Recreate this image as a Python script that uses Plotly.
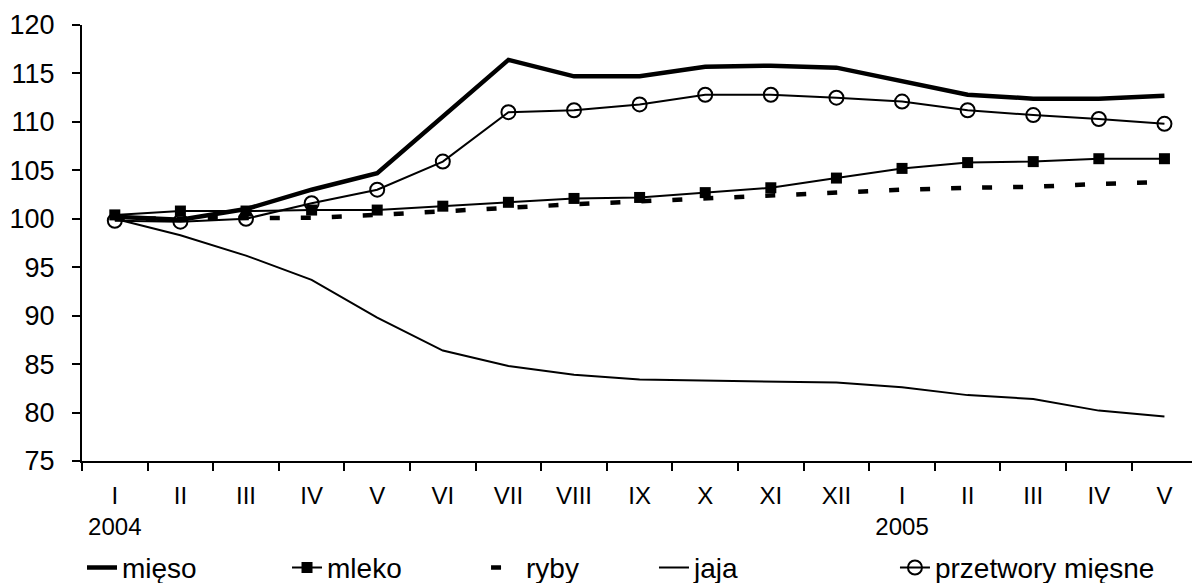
import plotly.graph_objects as go

months = ["I", "II", "III", "IV", "V", "VI", "VII", "VIII", "IX", "X", "XI", "XII",
          "I", "II", "III", "IV", "V"]
years = ["2004", "", "", "", "", "", "", "", "", "", "", "", "2005", "", "", "", ""]

mieso = [100.2, 99.9, 101.0, 103.0, 104.7, 110.5, 116.4, 114.7, 114.7, 115.7, 115.8,
         115.6, 114.2, 112.8, 112.4, 112.4, 112.7]
mleko = [100.4, 100.8, 100.8, 100.9, 100.9, 101.3, 101.7, 102.1, 102.2, 102.7, 103.2,
         104.2, 105.2, 105.8, 105.9, 106.2, 106.2]
ryby = [100.0, 100.0, 100.0, 100.1, 100.4, 100.8, 101.2, 101.5, 101.8, 102.1, 102.4,
        102.8, 103.0, 103.2, 103.3, 103.6, 103.8]
jaja = [100.0, 98.3, 96.2, 93.7, 89.8, 86.4, 84.8, 83.9, 83.4, 83.3, 83.2, 83.1,
        82.6, 81.8, 81.4, 80.2, 79.6]
przetwory = [99.8, 99.7, 100.0, 101.6, 103.0, 105.9, 111.0, 111.2, 111.8, 112.8, 112.8,
             112.5, 112.1, 111.2, 110.7, 110.3, 109.8]

y_ticks = [75, 80, 85, 90, 95, 100, 105, 110, 115, 120]

FONT = "Liberation Sans, Arial, sans-serif"
x = list(range(len(months)))
ticktext = [m if not yr else f"{m}<br>{yr}" for m, yr in zip(months, years)]

fig = go.Figure()
fig.add_trace(go.Scatter(x=x, y=mieso, name="mięso", mode="lines", legend="legend",
                         line=dict(color="black", width=4.5)))
fig.add_trace(go.Scatter(x=x, y=mleko, name="mleko", mode="lines+markers", legend="legend2",
                         line=dict(color="black", width=2),
                         marker=dict(symbol="square", size=11, color="black")))
fig.add_trace(go.Scatter(x=x, y=ryby, name="ryby", mode="lines", legend="legend3",
                         line=dict(color="black", width=4.5, dash="10px,21px")))
fig.add_trace(go.Scatter(x=x, y=jaja, name="jaja", mode="lines", legend="legend4",
                         line=dict(color="black", width=2)))
fig.add_trace(go.Scatter(x=x, y=przetwory, name="przetwory mięsne", mode="lines+markers",
                         legend="legend5",
                         line=dict(color="black", width=2),
                         marker=dict(symbol="circle-open", size=14, color="black",
                                     line=dict(width=2, color="black"))))

legend_style = dict(orientation="h", xanchor="left", y=-0.245, yanchor="middle",
                    font=dict(size=28, family=FONT, color="black"),
                    bgcolor="rgba(0,0,0,0)")
legend_x = [0.0, 0.1847, 0.364, 0.5153, 0.7324]

fig.update_layout(
    width=1192, height=583,
    margin=dict(l=82, r=0, t=25, b=122, autoexpand=False),
    paper_bgcolor="white", plot_bgcolor="white",
    font=dict(family=FONT, color="black", size=24),
    showlegend=True,
    legend=dict(x=legend_x[0], **legend_style),
    legend2=dict(x=legend_x[1], **legend_style),
    legend3=dict(x=legend_x[2], **legend_style),
    legend4=dict(x=legend_x[3], **legend_style),
    legend5=dict(x=legend_x[4], **legend_style),
    xaxis=dict(
        range=[-0.5, 16.42], tickmode="array", tickvals=x, ticktext=ticktext,
        ticks="", showgrid=False, zeroline=False, automargin=False,
        showline=True, linecolor="black", linewidth=2,
        tickfont=dict(size=24, family=FONT, color="black"),
        ticklabelstandoff=12,
        minor=dict(tickmode="array", tickvals=[i - 0.5 for i in range(len(months) + 1)],
                   ticks="outside", ticklen=8, tickwidth=2, tickcolor="black",
                   showgrid=False),
    ),
    yaxis=dict(
        range=[75, 120], tickmode="array", tickvals=y_ticks,
        ticks="outside", ticklen=8, tickwidth=2, tickcolor="black",
        showgrid=False, zeroline=False, automargin=False,
        showline=True, linecolor="black", linewidth=2,
        tickfont=dict(size=27, family=FONT, color="black"),
        ticklabelstandoff=12,
    ),
)

fig.write_html(
    "out.html",
    config={"displayModeBar": False},
    post_script="document.body.style.margin='0';document.body.style.overflow='hidden';",
)
